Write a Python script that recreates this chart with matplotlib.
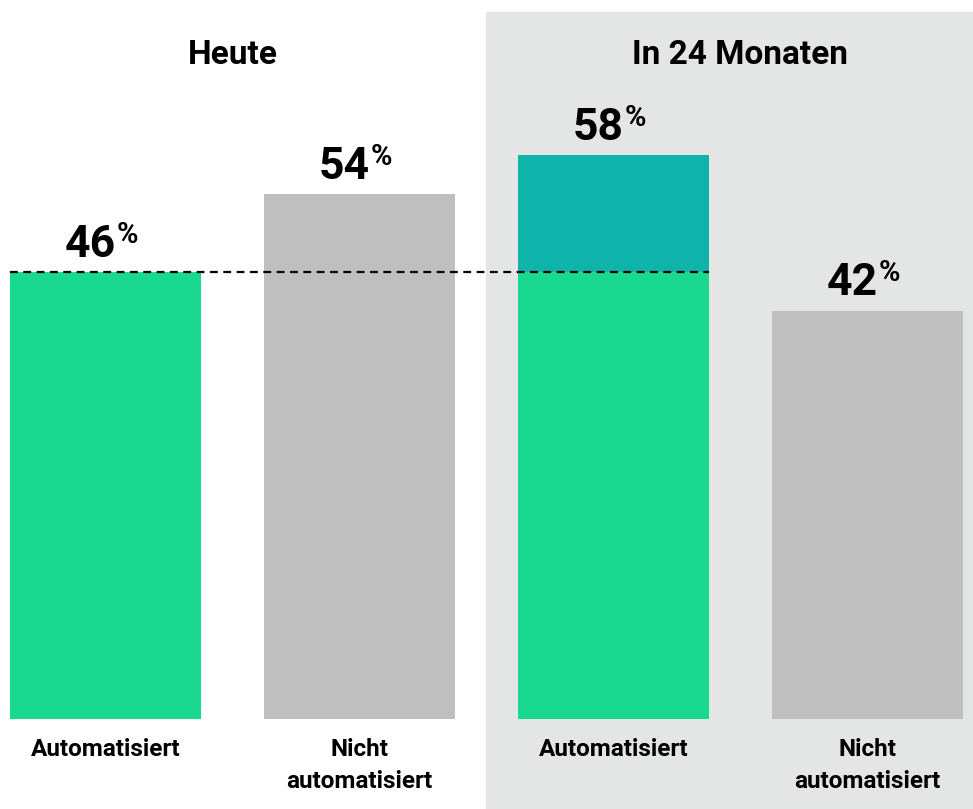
import matplotlib
matplotlib.use("Agg")
import matplotlib.pyplot as plt
from matplotlib.patches import Rectangle
from matplotlib.transforms import blended_transform_factory

# ── Data ──────────────────────────────────────────────────────────────────────

CATEGORIES = ["Automatisiert", "Nicht\nautomatisiert", "Automatisiert", "Nicht\nautomatisiert"]
VALUES     = [46, 54, 58, 42]
BASELINE   = 46                       # today's automated share, dashed reference
GROUPS     = ["Heute", "In 24 Monaten"]

GREEN = "#18D98F"
TEAL  = "#0EB3AA"
GREY  = "#BEBFBE"
PANEL = "#E4E6E5"

plt.rcParams["font.family"] = ["Roboto", "DejaVu Sans"]

# ── Figure ────────────────────────────────────────────────────────────────────

W, H = 973, 809
fig = plt.figure(figsize=(W / 100, H / 100), dpi=100)

# grey panel behind the "in 24 months" half
fig.add_artist(Rectangle((486 / W, 0), 1 - 486 / W, 1 - 12 / H,
                         transform=fig.transFigure, color=PANEL, zorder=-1))

bottom_px = 719
ax = fig.add_axes([0, (H - bottom_px) / H, 1, bottom_px / H])
ax.patch.set_alpha(0)
ax.set_xlim(-0.415, 3.415)
ax.set_ylim(0, bottom_px / 9.72)

x = list(range(len(VALUES)))
colors = [GREEN, GREY, GREEN, GREY]
ax.bar(x, VALUES, width=0.752, color=colors, zorder=2)
# growth part of the future automated bar
ax.bar(2, VALUES[2] - BASELINE, bottom=BASELINE, width=0.752, color=TEAL, zorder=2)

ax.plot([-0.376, 2.376], [BASELINE, BASELINE], color="black", lw=1.6,
        ls=(0, (3.5, 2.5)), zorder=3)

for s in ax.spines.values():
    s.set_visible(False)
ax.set_xticks([])
ax.set_yticks([])

# category labels under the bars
lab_tr = blended_transform_factory(ax.transData, fig.transFigure)
for i, lab in enumerate(CATEGORIES):
    ax.text(i, 1 - 738 / H, lab, transform=lab_tr, ha="center", va="top",
            fontsize=17.5, fontweight="bold", linespacing=1.5, clip_on=False)

# value labels: big number + superscript %
fig.canvas.draw()
renderer = fig.canvas.get_renderer()
for i, v in enumerate(VALUES):
    t = ax.annotate(str(v), (i, v), xytext=(-11, 11), textcoords="offset points",
                    ha="center", va="baseline", fontsize=32, fontweight="bold")
    bb = t.get_window_extent(renderer)
    fig.text((bb.x1 + 1) / W, (bb.y1 + 3) / H, "%", ha="left", va="top",
             fontsize=21, fontweight="bold")

# group titles
fig.text(233 / W, 1 - 64 / H, GROUPS[0], ha="center", va="baseline",
         fontsize=24, fontweight="bold")
fig.text(740 / W, 1 - 64 / H, GROUPS[1], ha="center", va="baseline",
         fontsize=24, fontweight="bold")

fig.savefig("out.png", dpi=100)
